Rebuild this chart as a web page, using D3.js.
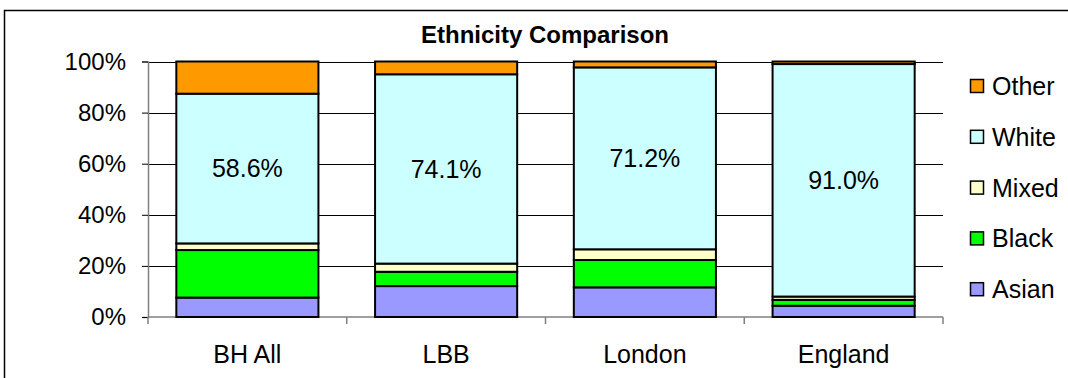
<!DOCTYPE html>
<html>
<head>
<meta charset="utf-8">
<script src="https://cdn.jsdelivr.net/npm/d3@7"></script>
<style>
  body { margin: 0; background: #fff; }
  svg { display: block; font-family: "Liberation Sans", Arial, sans-serif; }
</style>
</head>
<body>
<svg id="chart"></svg>
<script>
let areas = ['BH All', 'LBB', 'London', 'England']
let groups = ['Asian', 'Black', 'Mixed', 'White', 'Other']  // bottom to top
let asian = [7.6, 12.1, 11.6, 4.4]
let black = [18.6, 5.6, 10.7, 2.3]
let mixed = [2.6, 3.2, 4.2, 1.3]
let white = [58.6, 74.1, 71.2, 91.0]
let other = [12.6, 5.0, 2.3, 1.0]
let yTicks = [0, 20, 40, 60, 80, 100]
let colors = ['#9999FF', '#00FF00', '#FFFFCC', '#CCFFFF', '#FF9900']
let legendOrder = ['Other', 'White', 'Mixed', 'Black', 'Asian']

let outerWidth = 1068
let outerHeight = 378
let margins = { top: 61.5, bottom: 61, left: 148, right: 125 }

let svg = d3.select('#chart')
  .attr('width', outerWidth)
  .attr('height', outerHeight)

// rows for the stack
let rows = areas.map((a, i) => ({
  area: a, Asian: asian[i], Black: black[i], Mixed: mixed[i], White: white[i], Other: other[i]
}))
let series = d3.stack().keys(groups)(rows)

let xScale = d3.scaleBand()
  .domain(areas)
  .range([margins.left, outerWidth - margins.right])
  .paddingInner(0.285)
  .paddingOuter(0.1425)

let yScale = d3.scaleLinear()
  .domain([0, 100])
  .range([outerHeight - margins.bottom, margins.top])

let colorScale = d3.scaleOrdinal().domain(groups).range(colors)

// chart border
svg.append('rect')
  .attr('x', 4.5).attr('y', 10.5)
  .attr('width', 1100).attr('height', 420)
  .attr('fill', 'none').attr('stroke', '#000').attr('stroke-width', 1.5)

// title
svg.append('text')
  .attr('x', 545).attr('y', 43)
  .attr('text-anchor', 'middle')
  .style('font-size', '24px').style('font-weight', 'bold')
  .text('Ethnicity Comparison')

// gridlines
svg.append('g')
  .selectAll('line')
  .data(yTicks.slice(1))
  .enter()
  .append('line')
  .attr('x1', margins.left).attr('x2', outerWidth - margins.right)
  .attr('y1', d => Math.round(yScale(d)) + 0.5).attr('y2', d => Math.round(yScale(d)) + 0.5)
  .attr('stroke', '#000').attr('stroke-width', 1)

// y axis
let yAxis = d3.axisLeft(yScale).tickValues(yTicks).tickSize(6).tickPadding(16).tickFormat(d => d + '%')
let gy = svg.append('g')
  .attr('transform', 'translate(' + margins.left + ',0)')
  .call(yAxis)
gy.select('.domain').attr('stroke', '#808080').attr('stroke-width', 1.5)
gy.selectAll('.tick line').attr('stroke', '#000')
gy.selectAll('.tick text')
  .style('font-size', '24px').attr('fill', '#000')
  .attr('font-family', null)

// x axis (ticks at category boundaries)
let gx = svg.append('g')
  .attr('transform', 'translate(0,' + (outerHeight - margins.bottom) + ')')
gx.append('line')
  .attr('x1', margins.left).attr('x2', outerWidth - margins.right)
  .attr('stroke', '#808080').attr('stroke-width', 1.5)
let step = xScale.step()
gx.selectAll('.bound')
  .data(d3.range(areas.length + 1))
  .enter()
  .append('line')
  .attr('x1', i => margins.left + i * step).attr('x2', i => margins.left + i * step)
  .attr('y1', 0).attr('y2', 7)
  .attr('stroke', '#808080').attr('stroke-width', 1.5)
gx.selectAll('text')
  .data(areas)
  .enter()
  .append('text')
  .attr('x', d => xScale(d) + xScale.bandwidth() / 2)
  .attr('y', 46)
  .attr('text-anchor', 'middle')
  .style('font-size', '25px')
  .text(d => d)

// stacked bars
svg.append('g')
  .selectAll('g')
  .data(series)
  .enter()
  .append('g')
  .attr('fill', d => colorScale(d.key))
  .selectAll('rect')
  .data(d => d)
  .enter()
  .append('rect')
  .attr('x', d => xScale(d.data.area))
  .attr('y', d => yScale(d[1]))
  .attr('width', xScale.bandwidth())
  .attr('height', d => yScale(d[0]) - yScale(d[1]))
  .attr('stroke', '#000').attr('stroke-width', 2)

// labels on the white segment
let whiteSeries = series.find(s => s.key === 'White')
svg.append('g')
  .selectAll('text')
  .data(whiteSeries)
  .enter()
  .append('text')
  .attr('x', d => xScale(d.data.area) + xScale.bandwidth() / 2)
  .attr('y', d => (yScale(d[0]) + yScale(d[1])) / 2)
  .attr('dy', '0.35em')
  .attr('text-anchor', 'middle')
  .style('font-size', '25px')
  .text(d => d3.format('.1f')(d.data.White) + '%')

// legend
let legend = svg.append('g')
  .selectAll('g')
  .data(legendOrder)
  .enter()
  .append('g')
  .attr('transform', (d, i) => 'translate(970,' + (86 + i * 50.8) + ')')
legend.append('rect')
  .attr('x', 0.5).attr('y', -6.5)
  .attr('width', 13).attr('height', 13)
  .attr('fill', d => colorScale(d))
  .attr('stroke', '#000').attr('stroke-width', 1.5)
legend.append('text')
  .attr('x', 22).attr('y', 0)
  .attr('dy', '0.36em')
  .style('font-size', '25px')
  .text(d => d)
</script>
</body>
</html>
